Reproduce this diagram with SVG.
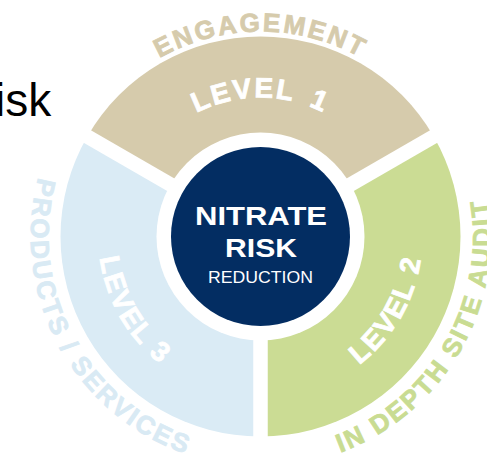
<svg xmlns="http://www.w3.org/2000/svg" xmlns:xlink="http://www.w3.org/1999/xlink" width="487" height="456" viewBox="0 0 487 456">
  <style>
    .bold { font-family: "Liberation Sans", Arial, sans-serif; font-weight: bold; }
    .reg { font-family: "Liberation Sans", Arial, sans-serif; }
    .lvl { font-size: 28px; fill: #ffffff; stroke: #ffffff; stroke-width: 0.8px; letter-spacing: 2px; }
    .outer { font-size: 26px; stroke-width: 0.8px; letter-spacing: 2.5px; }
    .sep { stroke: #ffffff; stroke-width: 14.5; stroke-linecap: butt; }
  </style>
  <defs>
    <path id="arcEng" d="M 55.5 236.5 A 205 205 0 0 1 465.5 236.5"/>
    <path id="arcL1" d="M 121.5 236.5 A 139 139 0 0 1 399.5 236.5"/>
    <path id="arcL3" d="M 120.2 155.5 A 162 162 0 0 0 260.5 398.5"/>
    <path id="arcL2" d="M 260.5 398.5 A 162 162 0 0 0 400.8 155.5"/>
    <path id="arcAudit" d="M 163.1 445.4 A 230.5 230.5 0 0 0 392.7 47.7"/>
    <path id="arcProd" d="M 128.6 48.1 A 230 230 0 0 0 357.7 444.9"/>
  </defs>
  <rect x="0" y="0" width="487" height="456" fill="#ffffff"/>

  <text class="reg" x="-5" y="116" font-size="46" fill="#000000">isk</text>

  <g id="level1">
    <path d="M 260.5 236.5 L 87.295 136.5 A 200 200 0 0 1 433.705 136.5 Z" fill="#d6cbac"/>
    <text class="bold lvl"><textPath xlink:href="#arcL1" startOffset="50%" text-anchor="middle">LEVEL <tspan dx="6">1</tspan></textPath></text>
    <text class="bold outer" fill="#d6cbac" stroke="#d6cbac" letter-spacing="5"><textPath xlink:href="#arcEng" startOffset="50%" text-anchor="middle">ENGAGEMENT</textPath></text>
  </g>

  <g id="level2">
    <path d="M 260.5 236.5 L 433.705 136.5 A 200 200 0 0 1 260.5 436.5 Z" fill="#cbdc94"/>
    <text class="bold lvl"><textPath xlink:href="#arcL2" startOffset="50%" text-anchor="middle">LEVEL 2</textPath></text>
    <text class="bold outer" fill="#c9dc92" stroke="#c9dc92"><textPath xlink:href="#arcAudit" startOffset="50%" text-anchor="middle">IN DEPTH SITE AUDIT</textPath></text>
  </g>

  <g id="level3">
    <path d="M 260.5 236.5 L 260.5 436.5 A 200 200 0 0 1 87.295 136.5 Z" fill="#daebf5"/>
    <text class="bold lvl"><textPath xlink:href="#arcL3" startOffset="50%" text-anchor="middle">LEVEL 3</textPath></text>
    <text class="bold outer" fill="#d9eaf4" stroke="#d9eaf4" letter-spacing="1.5"><textPath xlink:href="#arcProd" startOffset="49%" text-anchor="middle">PRODUCTS / SERVICES</textPath></text>
  </g>

  <g id="connectors">
    <line class="sep" x1="260.5" y1="236.5" x2="260.5" y2="442"/>
    <line class="sep" x1="260.5" y1="236.5" x2="82.5" y2="133.7"/>
    <line class="sep" x1="260.5" y1="236.5" x2="438.5" y2="133.7"/>
  </g>

  <g id="center">
    <circle cx="260.5" cy="236.5" r="104" fill="#ffffff"/>
    <circle cx="260.5" cy="236.5" r="89.5" fill="#032d62"/>
    <text class="bold" x="195" y="225" font-size="25.5" fill="#ffffff" textLength="132" lengthAdjust="spacingAndGlyphs">NITRATE</text>
    <text class="bold" x="225" y="257" font-size="25.5" fill="#ffffff" textLength="72" lengthAdjust="spacingAndGlyphs">RISK</text>
    <text class="reg" x="208" y="283" font-size="16.2" fill="#ffffff" textLength="105" lengthAdjust="spacingAndGlyphs">REDUCTION</text>
  </g>
</svg>
